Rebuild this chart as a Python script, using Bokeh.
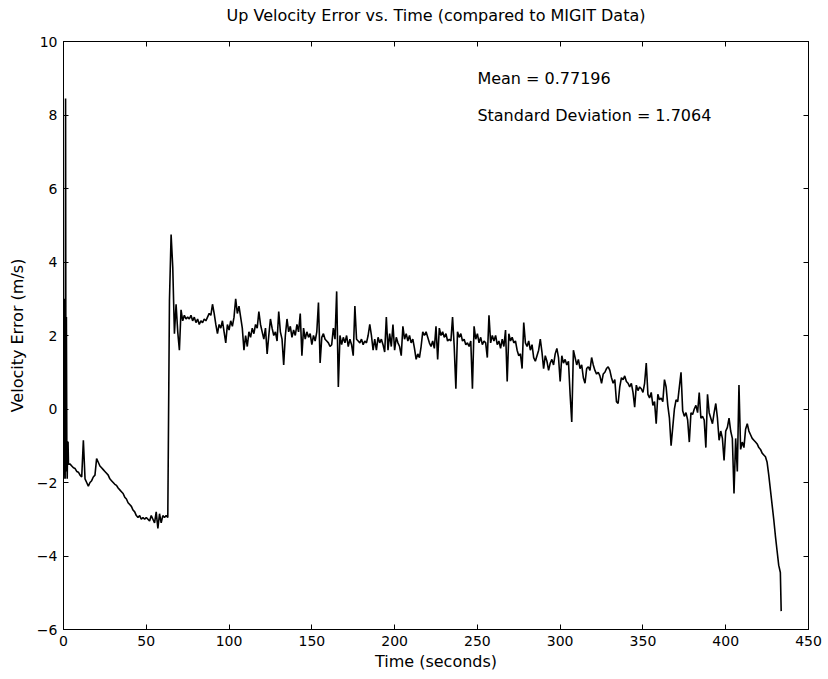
from bokeh.plotting import figure
from bokeh.models import LinearAxis, FixedTicker, Range1d, Label
from bokeh.embed import file_html
from bokeh.resources import INLINE

# ---------------- data ----------------
time_s = [
    0, 0.25, 0.5, 0.75, 1, 1.25, 1.5, 1.75, 2, 2.25, 2.5, 2.75, 3,
    4, 5, 6, 7, 8, 9, 10, 11, 12, 13,
    14, 15, 16, 17, 18, 19, 20, 21, 22, 23,
    24, 25, 26, 27, 28, 29, 30, 31, 32, 33,
    34, 35, 36, 37, 38, 39, 40, 41, 42, 43,
    44, 45, 46, 47, 48, 49, 50, 51, 52, 53,
    54, 55, 56, 57, 58, 59, 60, 61, 62, 63,
    64, 65, 66, 67, 68, 69, 70, 71, 72, 73,
    74, 75, 76, 77, 78, 79, 80, 81, 82, 83,
    84, 85, 86, 87, 88, 89, 90, 91, 92, 93,
    94, 95, 96, 97, 98, 99, 100, 101, 102, 103,
    104, 105, 106, 107, 108, 109, 110, 111, 112, 113,
    114, 115, 116, 117, 118, 119, 120, 121, 122, 123,
    124, 125, 126, 127, 128, 129, 130, 131, 132, 133,
    134, 135, 136, 137, 138, 139, 140, 141, 142, 143,
    144, 145, 146, 147, 148, 149, 150, 151, 152, 153,
    154, 155, 156, 157, 158, 159, 160, 161, 162, 163,
    164, 165, 166, 167, 168, 169, 170, 171, 172, 173,
    174, 175, 176, 177, 178, 179, 180, 181, 182, 183,
    184, 185, 186, 187, 188, 189, 190, 191, 192, 193,
    194, 195, 196, 197, 198, 199, 200, 201, 202, 203,
    204, 205, 206, 207, 208, 209, 210, 211, 212, 213,
    214, 215, 216, 217, 218, 219, 220, 221, 222, 223,
    224, 225, 226, 227, 228, 229, 230, 231, 232, 233,
    234, 235, 236, 237, 238, 239, 240, 241, 242, 243,
    244, 245, 246, 247, 248, 249, 250, 251, 252, 253,
    254, 255, 256, 257, 258, 259, 260, 261, 262, 263,
    264, 265, 266, 267, 268, 269, 270, 271, 272, 273,
    274, 275, 276, 277, 278, 279, 280, 281, 282, 283,
    284, 285, 286, 287, 288, 289, 290, 291, 292, 293,
    294, 295, 296, 297, 298, 299, 300, 301, 302, 303,
    304, 305, 306, 307, 308, 309, 310, 311, 312, 313,
    314, 315, 316, 317, 318, 319, 320, 321, 322, 323,
    324, 325, 326, 327, 328, 329, 330, 331, 332, 333,
    334, 335, 336, 337, 338, 339, 340, 341, 342, 343,
    344, 345, 346, 347, 348, 349, 350, 351, 352, 353,
    354, 355, 356, 357, 358, 359, 360, 361, 362, 363,
    364, 365, 366, 367, 368, 369, 370, 371, 372, 373,
    374, 375, 376, 377, 378, 379, 380, 381, 382, 383,
    384, 385, 386, 387, 388, 389, 390, 391, 392, 393,
    394, 395, 396, 397, 398, 399, 400, 401, 402, 403,
    404, 405, 406, 407, 408, 409, 410, 411, 412, 413,
    414, 415, 416, 417, 418, 419, 420, 421, 422, 423,
    424, 425, 426, 427, 428, 429, 430, 431, 432, 433,
    433.5,
]

velocity_error = [
    -1.9, 2.9, -1.8, 3.0, -1.9, 8.45, -1.7, 2.5, -0.9, -1.9, -0.9, -0.9, -1.5,
    -1.5, -1.55, -1.6, -1.62, -1.7, -1.72, -1.8, -1.85, -0.85, -1.9,
    -2.0, -2.1, -2.0, -1.95, -1.85, -1.8, -1.35, -1.45, -1.55, -1.6,
    -1.65, -1.7, -1.75, -1.8, -1.9, -1.95, -2.0, -2.05, -2.08, -2.15,
    -2.2, -2.25, -2.3, -2.4, -2.45, -2.55, -2.6, -2.65, -2.75, -2.8,
    -2.9, -2.95, -2.9, -3.0, -2.95, -3.0, -2.95, -3.0, -3.05, -2.9,
    -3.0, -3.1, -2.8, -3.25, -2.85, -3.1, -2.9, -2.95, -2.9, -2.95,
    2.95, 4.75, 3.85, 2.05, 2.85, 2.1, 1.6, 2.7, 2.4, 2.55,
    2.45, 2.5, 2.45, 2.55, 2.4, 2.5, 2.35, 2.45, 2.3, 2.4,
    2.35, 2.45, 2.4, 2.5, 2.6, 2.55, 2.85, 2.6, 2.3, 2.05,
    2.3, 2.2, 2.4, 2.1, 1.8, 2.3, 2.15, 2.4, 2.25, 2.5,
    3.0, 2.6, 2.8, 2.5, 2.2, 1.6, 2.0, 1.7, 2.1, 1.95,
    2.2, 2.05, 2.3, 2.2, 2.65, 2.3, 2.1, 1.9, 2.2, 1.5,
    2.0, 2.45, 2.2, 2.0, 2.1, 1.85, 2.65, 2.1, 1.9, 1.2,
    2.0, 2.45, 2.1, 2.25, 1.95, 2.15, 2.0, 2.3, 2.1, 2.6,
    1.45, 2.2, 1.9, 2.1, 1.95, 2.05, 1.75, 2.0, 1.85, 2.1,
    2.9, 1.25, 1.95, 2.05, 1.9, 1.85, 1.8, 1.7, 1.75, 2.2,
    1.9, 3.2, 0.6, 2.0, 1.75, 1.95, 1.8, 2.0, 1.7, 1.9,
    1.75, 1.45, 2.8, 1.9, 1.85, 1.8, 1.9, 1.75, 1.85, 1.8,
    2.0, 2.3, 2.0, 1.6, 1.9, 1.6, 1.95, 1.8, 1.9, 1.75,
    1.55, 2.5, 1.6, 2.05, 1.7, 2.3, 1.6, 1.95, 1.8, 1.7,
    1.45, 2.25, 1.9, 2.05, 1.85, 2.0, 1.8, 1.9, 1.65, 1.35,
    1.5, 1.4, 1.7, 2.1, 2.0, 2.1, 1.95, 1.8, 1.7, 1.85,
    1.65, 2.25, 1.35, 2.2, 2.0, 2.1, 1.95, 2.05, 1.85, 1.9,
    1.85, 2.5, 1.7, 0.55, 2.1, 1.95, 2.05, 1.85, 1.9, 1.75,
    1.8, 1.7, 1.85, 0.55, 2.25, 1.9, 2.05, 1.8, 1.95, 1.75,
    1.85, 1.8, 1.4, 2.55, 1.8, 2.0, 1.85, 2.0, 1.75, 1.85,
    1.65, 1.9, 1.7, 2.15, 0.75, 2.05, 1.85, 1.95, 1.8, 1.85,
    1.6, 1.45, 1.5, 1.1, 2.35, 1.8, 1.7, 1.85, 1.6, 1.75,
    1.4, 1.3, 1.45, 1.6, 1.9, 1.55, 1.1, 1.45, 1.3, 1.05,
    1.25, 1.35, 1.2, 1.5, 1.65, 1.4, 0.75, 1.45, 1.25, 1.35,
    1.2, 1.3, 0.4, -0.35, 1.6, 1.4, 1.2, 1.35, 1.1, 1.2,
    0.85, 0.7, 1.1, 1.15, 1.05, 1.4, 1.2, 1.05, 0.95, 1.0,
    0.9, 0.7, 0.95, 1.0, 1.1, 1.15, 1.05, 0.85, 0.7, 0.8,
    0.2, 0.15, 0.6, 0.85, 0.8, 0.9, 0.75, 0.7, 0.6, 0.7,
    0.45, 0.05, 0.65, 0.5, 0.6, 0.55, 0.45, 0.7, 1.25, 0.4,
    0.3, 0.45, 0.1, 0.2, -0.4, 0.4, 0.25, 0.3, 0.2, 0.8,
    0.6, 0.1, -0.25, -1.0, -0.5, 0.0, 0.25, 0.2, 0.6, 1.0,
    -0.05, -0.2, -0.1, -0.3, -0.9, -0.1, -0.15, 0.0, 0.1, -0.1,
    0.45, -0.25, -0.2, -0.3, -1.05, 0.4, -0.1, -0.25, -0.4, -0.1,
    0.15, -0.25, -0.85, -0.6, -0.8, -1.4, -0.6, -0.5, -0.25, -0.6,
    -0.8, -2.3, -0.8, -1.7, 0.65, -1.1, -0.9, -1.05, -0.55, -0.4,
    -0.6, -0.7, -0.8, -0.85, -0.9, -0.95, -1.05, -1.1, -1.2, -1.25,
    -1.3, -1.45, -1.8, -2.2, -2.6, -3.0, -3.45, -3.85, -4.25, -4.45,
    -5.5,
]

x_range_lim = [0, 450]
y_range_lim = [-6, 10]
x_ticks = [0, 50, 100, 150, 200, 250, 300, 350, 400, 450]
y_ticks = [-6, -4, -2, 0, 2, 4, 6, 8, 10]

title_text = "Up Velocity Error vs. Time (compared to MIGIT Data)"
x_label = "Time (seconds)"
y_label = "Velocity Error (m/s)"

stats_text = ["Mean = 0.77196", "Standard Deviation = 1.7064"]
stats_x = [250, 250]
stats_y = [9, 8]

FONT = "DejaVu Sans"
TEXT_SIZE = "16px"
TICK_SIZE = "14px"

# ---------------- figure ----------------
p = figure(
    width=828, height=679,
    x_range=Range1d(*x_range_lim), y_range=Range1d(*y_range_lim),
    output_backend="svg", toolbar_location=None,
    min_border_left=63, min_border_right=20,
    min_border_top=41, min_border_bottom=50,
    background_fill_color="white", border_fill_color="white",
)
p.title.text = title_text
p.title.align = "center"
p.title.text_font = FONT
p.title.text_font_size = TEXT_SIZE
p.title.text_font_style = "normal"
p.title.text_color = "black"
p.title.vertical_align = "top"
p.title.standoff = 0
p.title.padding = (0, 0, 0, 15)   # (left, right, top, bottom)

p.grid.visible = False
p.outline_line_color = "black"
p.outline_line_width = 1

p.line(time_s, velocity_error, line_color="black", line_width=1.6)

# main axes
for ax in (p.xaxis[0], p.yaxis[0]):
    ax.axis_line_color = "black"
    ax.major_tick_line_color = "black"
    ax.major_tick_in = 5
    ax.major_tick_out = 0
    ax.minor_tick_line_color = None
    ax.major_label_text_font = FONT
    ax.major_label_text_font_size = TICK_SIZE
    ax.major_label_text_color = "black"
    ax.axis_label_text_font = FONT
    ax.axis_label_text_font_size = TEXT_SIZE
    ax.axis_label_text_font_style = "normal"
    ax.axis_label_text_color = "black"

p.xaxis[0].ticker = FixedTicker(ticks=x_ticks)
p.yaxis[0].ticker = FixedTicker(ticks=y_ticks)
p.xaxis[0].axis_label = x_label
p.yaxis[0].axis_label = y_label
p.xaxis[0].major_label_standoff = 6
p.xaxis[0].axis_label_standoff = 3
p.yaxis[0].major_label_standoff = 6
p.yaxis[0].axis_label_standoff = 7

# box ticks on top and right (no labels)
top_ax = LinearAxis(ticker=FixedTicker(ticks=x_ticks),
                    major_label_overrides={t: "" for t in x_ticks})
right_ax = LinearAxis(ticker=FixedTicker(ticks=y_ticks),
                      major_label_overrides={t: "" for t in y_ticks})
for ax in (top_ax, right_ax):
    ax.axis_line_color = "black"
    ax.major_tick_line_color = "black"
    ax.major_tick_in = 5
    ax.major_tick_out = 0
    ax.minor_tick_line_color = None
    ax.major_label_standoff = 0
p.add_layout(top_ax, "above")
p.add_layout(right_ax, "right")

for txt, xx, yy in zip(stats_text, stats_x, stats_y):
    p.add_layout(Label(x=xx, y=yy, text=txt, text_font=FONT,
                       text_font_size=TEXT_SIZE, text_color="black",
                       text_baseline="middle", text_align="left"))

open("out.html", "w").write(file_html(p, INLINE))
